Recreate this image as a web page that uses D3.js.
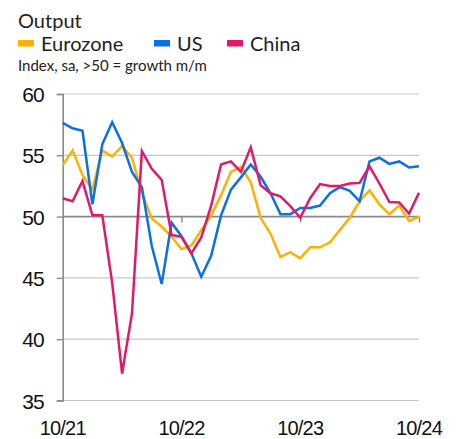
<!DOCTYPE html>
<html><head><meta charset="utf-8">
<script src="https://cdn.jsdelivr.net/npm/d3@7"></script>
<style>
html,body{margin:0;padding:0;background:#fff;}
svg{display:block;}
</style></head>
<body>
<script>
const months = d3.range(37); // Oct 2021 .. Oct 2024, monthly index
const xTickValues = [0, 12, 24, 36];
const xTickLabels = ["10/21", "10/22", "10/23", "10/24"];
const yTicks = [35, 40, 45, 50, 55, 60];
const seriesNames = ["Eurozone", "US", "China"];
const seriesColors = ["#FFB000", "#0A70E6", "#E4186A"];
const eurozone = [54.2,55.4,53.4,52.2,55.4,54.9,55.75,54.8,51.9,49.85,49.2,48.35,47.35,47.65,48.9,50.1,51.75,53.65,54.05,52.8,49.9,48.6,46.7,47.1,46.6,47.5,47.5,47.9,48.9,49.9,51.25,52.15,51.0,50.2,50.9,49.65,50.0];
const us = [57.65,57.2,57.0,51.0,55.9,57.7,56.0,53.65,52.4,47.6,44.5,49.5,48.4,47.0,45.1,46.8,50.1,52.2,53.2,54.25,53.25,51.9,50.2,50.2,50.7,50.7,50.9,51.9,52.4,52.1,51.25,54.5,54.8,54.3,54.5,54.0,54.1];
const china = [51.5,51.25,52.9,50.1,50.1,44.6,37.2,42.1,55.35,53.9,53.0,48.5,48.35,47.0,48.3,50.9,54.25,54.5,53.65,55.65,52.55,51.9,51.65,50.85,49.9,51.5,52.65,52.5,52.5,52.7,52.75,54.1,52.7,51.2,51.15,50.25,51.95];
const seriesValues = [eurozone, us, china];

const W = 459, H = 439;
const svg = d3.select("body").append("svg").attr("width", W).attr("height", H);

const x = d3.scaleLinear().domain([0, 36]).range([62.7, 419]);
const y = d3.scaleLinear().domain([35, 60]).range([400.5, 94]);

// Title / legend / subtitle
svg.append("text").attr("x", 18).attr("y", 27.5)
  .style("font-family", "Lato, 'Open Sans', sans-serif").style("font-size", "20px").attr("fill", "#222")
  .text("Output");
const legendX = [18, 154, 227];
seriesNames.forEach((n, i) => {
  svg.append("rect").attr("x", legendX[i]).attr("y", 40).attr("width", 16).attr("height", 6.5).attr("fill", seriesColors[i]);
  svg.append("text").attr("x", legendX[i] + 23).attr("y", 50.5)
    .style("font-family", "Lato, 'Open Sans', sans-serif").style("font-size", "20px").attr("fill", "#222")
    .text(n);
});
svg.append("text").attr("x", 18).attr("y", 71)
  .style("font-family", "Lato, 'Open Sans', sans-serif").style("font-size", "15px").attr("fill", "#222")
  .text("Index, sa, >50 = growth m/m");

// Gridlines
svg.append("g").selectAll("line").data(yTicks.filter(d => d !== 50)).join("line")
  .attr("x1", x(0)).attr("x2", x(36)).attr("y1", d => y(d)).attr("y2", d => y(d))
  .attr("stroke", "#c8c8c8").attr("stroke-width", 1.2);

// Y axis
const yAxis = d3.axisLeft(y).tickValues(yTicks).tickSize(6).tickPadding(13);
const gy = svg.append("g").attr("transform", `translate(${x(0)},0)`).call(yAxis);
gy.select(".domain").attr("stroke", "#8a8a8a").attr("stroke-width", 1.6);
gy.selectAll(".tick line").attr("stroke", "#8a8a8a").attr("stroke-width", 1.4);
gy.selectAll(".tick text").attr("fill", "#111")
  .style("font-family", "'Liberation Sans', Arial, sans-serif").style("font-size", "21px")
  .style("letter-spacing", "-1px").attr("dy", "0.36em");

// X axis at 50
const xAxis = d3.axisBottom(x).tickValues(xTickValues.slice(1)).tickSize(6).tickFormat("");
const gx = svg.append("g").attr("transform", `translate(0,${y(50)})`).call(xAxis);
gx.select(".domain").attr("stroke", "#8a8a8a").attr("stroke-width", 1.8).attr("d", `M${x(0)},0H${x(36)}`);
gx.selectAll(".tick line").attr("stroke", "#8a8a8a").attr("stroke-width", 1.4);

// X labels at bottom
svg.append("g").selectAll("text").data(xTickValues).join("text")
  .attr("x", d => x(d)).attr("y", 435).attr("text-anchor", "middle")
  .style("font-family", "'Liberation Sans', Arial, sans-serif").style("font-size", "20px")
  .style("letter-spacing", "-0.8px").attr("fill", "#111")
  .text((d, i) => xTickLabels[i]);

// Lines
const line = d3.line().x((d, i) => x(months[i])).y(d => y(d));
seriesValues.forEach((vals, k) => {
  svg.append("path").datum(vals).attr("d", line)
    .attr("fill", "none").attr("stroke", seriesColors[k]).attr("stroke-width", 2.5)
    .attr("stroke-linejoin", "miter").attr("stroke-miterlimit", 4);
});
</script>
</body></html>
